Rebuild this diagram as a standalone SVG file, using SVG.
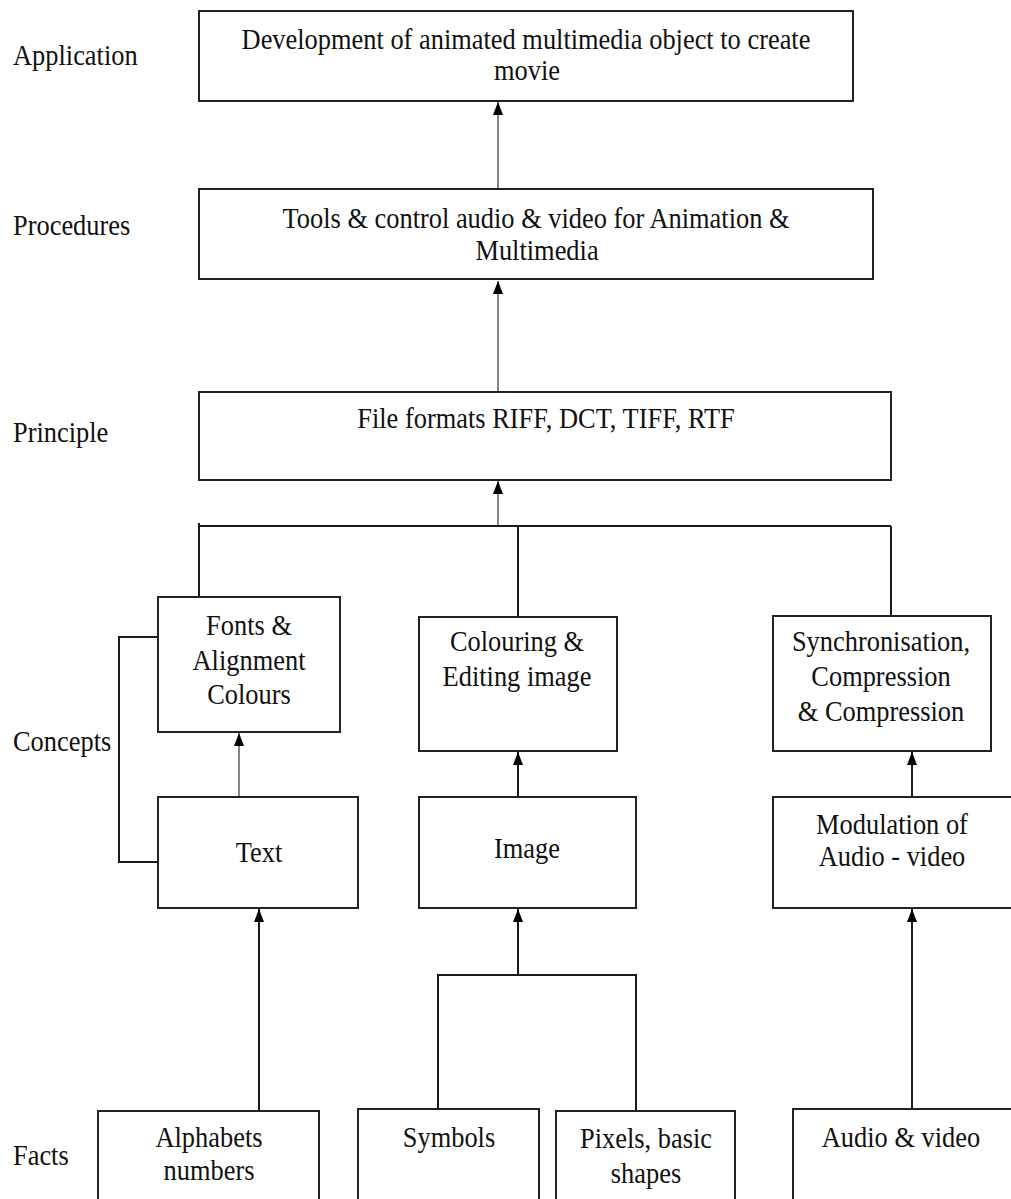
<svg xmlns="http://www.w3.org/2000/svg" width="1011" height="1199" viewBox="0 0 1011 1199">
<style>
  .box { fill: #fff; stroke: #222; stroke-width: 2; }
  text { font-family: "Liberation Serif", "Times New Roman", serif; font-size: 26.4px; fill: #111; }
  .c { text-anchor: middle; }
  .grey { fill: none; stroke: #858585; stroke-width: 2; }
  .blk { fill: none; stroke: #1a1a1a; stroke-width: 2; }
</style>
<defs>
  <marker id="ah" markerUnits="userSpaceOnUse" markerWidth="13" markerHeight="10" refX="13" refY="5" orient="auto">
    <path d="M0,0 L13,5 L0,10 z" fill="#000"/>
  </marker>
</defs>
<rect width="1011" height="1199" fill="#fff"/>

<g id="labels">
  <text transform="translate(13,65) scale(1,1.1)">Application</text>
  <text transform="translate(13,235) scale(1,1.1)">Procedures</text>
  <text transform="translate(13,442) scale(1,1.1)">Principle</text>
  <text transform="translate(13,751) scale(1,1.1)">Concepts</text>
  <text transform="translate(13,1165) scale(1,1.1)">Facts</text>
</g>

<g id="connectors">
  <path class="grey" d="M498,189 L498,102" marker-end="url(#ah)"/>
  <path class="grey" d="M498,392 L498,281" marker-end="url(#ah)"/>
  <path class="grey" d="M498,526 L498,481" marker-end="url(#ah)"/>
  <path class="blk" d="M199,523 L199,597 M199,526 L891,526 M518,526 L518,617 M891,526 L891,616"/>
  <path class="blk" d="M158,637 L119,637 L119,862 L158,862"/>
  <path class="grey" d="M239,797 L239,733" marker-end="url(#ah)"/>
  <path class="blk" d="M518,797 L518,752" marker-end="url(#ah)"/>
  <path class="blk" d="M912,797 L912,752" marker-end="url(#ah)"/>
  <path class="blk" d="M259,1111 L259,909" marker-end="url(#ah)"/>
  <path class="blk" d="M438,1109 L438,975 L636,975 L636,1111"/>
  <path class="blk" d="M518,975 L518,909" marker-end="url(#ah)"/>
  <path class="blk" d="M912,1109 L912,909" marker-end="url(#ah)"/>
</g>

<g id="application">
  <rect class="box" x="199" y="11" width="654" height="90"/>
  <text class="c" transform="translate(526,49) scale(1,1.1)">Development of animated multimedia object to create</text>
  <text class="c" transform="translate(527,80) scale(1,1.1)">movie</text>
</g>
<g id="procedures">
  <rect class="box" x="199" y="189" width="674" height="90"/>
  <text class="c" transform="translate(536,228) scale(1,1.1)">Tools &amp; control audio &amp; video for Animation &amp;</text>
  <text class="c" transform="translate(537,260) scale(1,1.1)">Multimedia</text>
</g>
<g id="principle">
  <rect class="box" x="199" y="392" width="692" height="88"/>
  <text class="c" transform="translate(546,428) scale(1,1.1)">File formats RIFF, DCT, TIFF, RTF</text>
</g>
<g id="fonts">
  <rect class="box" x="158" y="597" width="182" height="135"/>
  <text class="c" transform="translate(249,635) scale(1,1.1)">Fonts &amp;</text>
  <text class="c" transform="translate(249,670) scale(1,1.1)">Alignment</text>
  <text class="c" transform="translate(249,704) scale(1,1.1)">Colours</text>
</g>
<g id="colouring">
  <rect class="box" x="419" y="617" width="198" height="134"/>
  <text class="c" transform="translate(517,651) scale(1,1.1)">Colouring &amp;</text>
  <text class="c" transform="translate(517,686) scale(1,1.1)">Editing image</text>
</g>
<g id="synchronisation">
  <rect class="box" x="773" y="616" width="218" height="135"/>
  <text class="c" transform="translate(881,651) scale(1,1.1)">Synchronisation,</text>
  <text class="c" transform="translate(881,686) scale(1,1.1)">Compression</text>
  <text class="c" transform="translate(881,721) scale(1,1.1)">&amp; Compression</text>
</g>
<g id="text-node">
  <rect class="box" x="158" y="797" width="200" height="111"/>
  <text class="c" transform="translate(259,862) scale(1,1.1)">Text</text>
</g>
<g id="image">
  <rect class="box" x="419" y="797" width="217" height="111"/>
  <text class="c" transform="translate(527,858) scale(1,1.1)">Image</text>
</g>
<g id="modulation">
  <rect class="box" x="773" y="797" width="250" height="111"/>
  <text class="c" transform="translate(892,834) scale(1,1.1)">Modulation of</text>
  <text class="c" transform="translate(892,866) scale(1,1.1)">Audio - video</text>
</g>
<g id="alphabets">
  <rect class="box" x="98" y="1111" width="221" height="98"/>
  <text class="c" transform="translate(209,1147) scale(1,1.1)">Alphabets</text>
  <text class="c" transform="translate(209,1180) scale(1,1.1)">numbers</text>
</g>
<g id="symbols">
  <rect class="box" x="358" y="1109" width="181" height="98"/>
  <text class="c" transform="translate(449,1147) scale(1,1.1)">Symbols</text>
</g>
<g id="pixels">
  <rect class="box" x="556" y="1111" width="179" height="98"/>
  <text class="c" transform="translate(646,1148) scale(1,1.1)">Pixels, basic</text>
  <text class="c" transform="translate(646,1183) scale(1,1.1)">shapes</text>
</g>
<g id="audio-video">
  <rect class="box" x="793" y="1109" width="230" height="98"/>
  <text class="c" transform="translate(901,1147) scale(1,1.1)">Audio &amp; video</text>
</g>
</svg>
